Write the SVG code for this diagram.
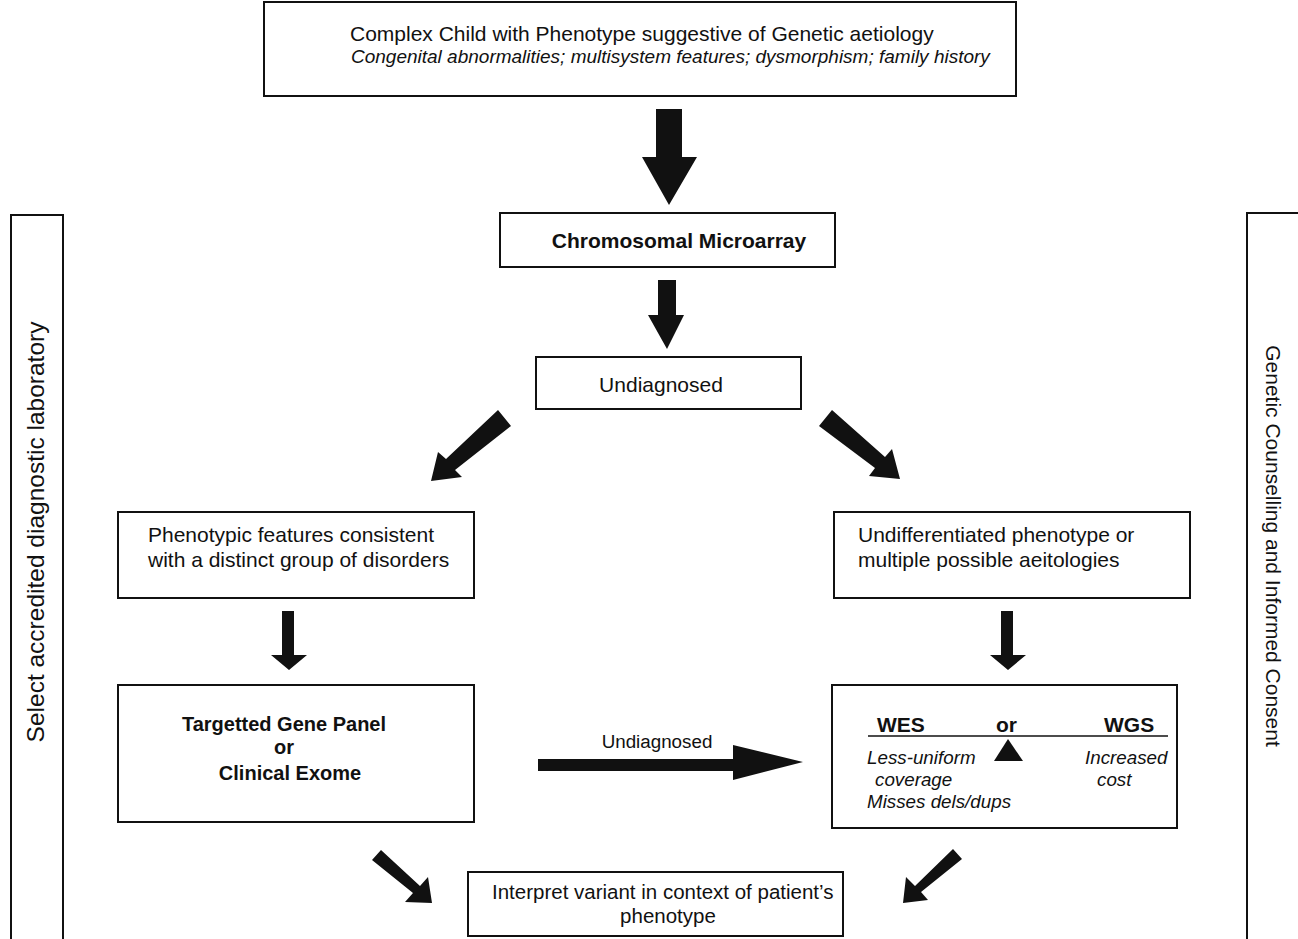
<svg xmlns="http://www.w3.org/2000/svg" width="1298" height="939" viewBox="0 0 1298 939">
<style>
.box{fill:#fff;stroke:#111;stroke-width:2}
.t{font-family:"Liberation Sans",Arial,sans-serif;font-size:21px;fill:#111}
.b{font-weight:bold}
.i{font-style:italic}
.s19{font-size:19px}
.s188{font-size:18.8px}
.s20{font-size:20px}
.s205{font-size:20.5px}
.s245{font-size:24.5px}
.arr{fill:#111}
</style>
<rect width="1298" height="939" fill="#fff"/>
<g id="top">
<rect class="box" x="264" y="2" width="752" height="94"/>
<text class="t" x="350" y="41">Complex Child with Phenotype suggestive of Genetic aetiology</text>
<text class="t i s19" x="351" y="63">Congenital abnormalities; multisystem features; dysmorphism; family history</text>
</g>
<g id="cma">
<rect class="box" x="500" y="213" width="335" height="54"/>
<text class="t b" x="679" y="248" text-anchor="middle">Chromosomal Microarray</text>
</g>
<g id="undiag">
<rect class="box" x="536" y="357" width="265" height="52"/>
<text class="t" x="661" y="392" text-anchor="middle">Undiagnosed</text>
</g>
<g id="pheno">
<rect class="box" x="118" y="512" width="356" height="86"/>
<text class="t" x="148" y="542">Phenotypic features consistent</text>
<text class="t" x="148" y="567">with a distinct group of disorders</text>
</g>
<g id="undiff">
<rect class="box" x="834" y="512" width="356" height="86"/>
<text class="t" x="858" y="542">Undifferentiated phenotype or</text>
<text class="t" x="858" y="567">multiple possible aeitologies</text>
</g>
<g id="panel">
<rect class="box" x="118" y="685" width="356" height="137"/>
<text class="t b s20" x="284" y="731" text-anchor="middle">Targetted Gene Panel</text>
<text class="t b s20" x="284" y="754" text-anchor="middle">or</text>
<text class="t b s20" x="290" y="780" text-anchor="middle">Clinical Exome</text>
</g>
<g id="wes">
<rect class="box" x="832" y="685" width="345" height="143"/>
<text class="t b" x="877" y="732">WES</text>
<text class="t b" x="996" y="732">or</text>
<text class="t b" x="1104" y="732">WGS</text>
<line x1="868" y1="736" x2="1168" y2="736" stroke="#111" stroke-width="1.5"/>
<polygon class="arr" points="1008,739 1023,761 994,761"/>
<text class="t i s188" x="867" y="764">Less-uniform</text>
<text class="t i s188" x="875" y="786">coverage</text>
<text class="t i s188" x="867" y="808">Misses dels/dups</text>
<text class="t i s188" x="1085" y="764">Increased</text>
<text class="t i s188" x="1097" y="786">cost</text>
</g>
<g id="interpret">
<rect class="box" x="468" y="872" width="375" height="64"/>
<text class="t s205" x="492" y="899">Interpret variant in context of patient’s</text>
<text class="t s205" x="668" y="923" text-anchor="middle">phenotype</text>
</g>
<g id="lab">
<rect class="box" x="11" y="215" width="52" height="730"/>
<text class="t s245" transform="translate(44,532) rotate(-90)" text-anchor="middle">Select accredited diagnostic laboratory</text>
</g>
<g id="consent">
<rect class="box" x="1247" y="213" width="60" height="730"/>
<text class="t" transform="translate(1266,546) rotate(90)" text-anchor="middle">Genetic Counselling and Informed Consent</text>
</g>
<g id="connectors">
<polygon class="arr" points="656,109 682,109 682,157 697,157 669,205 642,157 656,157"/>
<polygon class="arr" points="658,280 676,280 676,315 684,315 667,349 648,315 658,315"/>
<polygon class="arr" points="498,410 511,426 455,470 462,477 431,481 438,452 446,459"/>
<polygon class="arr" points="832,410 819,426 875,468 869,476 900,479 892,449 885,457"/>
<polygon class="arr" points="282,611 294,611 294,655 307,655 289,670 271,655 282,655"/>
<polygon class="arr" points="1001,611 1013,611 1013,655 1026,655 1008,670 990,655 1001,655"/>
<polygon class="arr" points="538,759 733,759 733,745 803,762 733,780 733,771 538,771"/>
<text class="t s188" x="657" y="748" text-anchor="middle">Undiagnosed</text>
<polygon class="arr" points="372,860 381,850 420,886 428,877 432,903 405,902 413,893"/>
<polygon class="arr" points="962,859 953,849 915,886 906,877 903,903 928,900 921,892"/>
</g>
</svg>
